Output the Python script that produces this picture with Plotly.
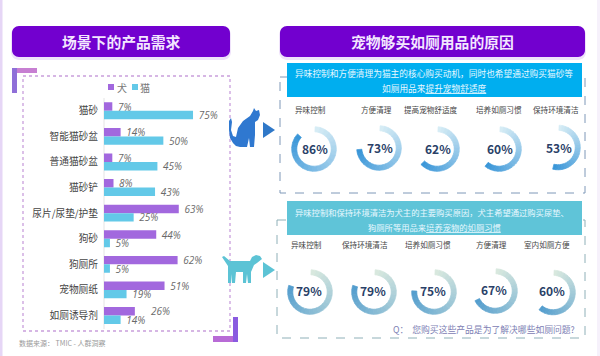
import plotly.graph_objects as go

W, H = 600, 356

# ---- data ----
categories = ["猫砂", "智能猫砂盆", "普通猫砂盆", "猫砂铲", "尿片/尿垫/护垫", "狗砂", "狗厕所", "宠物厕纸", "如厕诱导剂"]
dog_values = [7, 14, 7, 8, 63, 44, 62, 51, 26]
cat_values = [75, 50, 45, 43, 25, 5, 5, 19, 14]

cat_reasons = ["异味控制", "方便清理", "提高宠物舒适度", "培养如厕习惯", "保持环境清洁"]
cat_reason_values = [86, 73, 62, 60, 53]
dog_reasons = ["异味控制", "保持环境清洁", "培养如厕习惯", "方便清理", "室内如厕方便"]
dog_reason_values = [79, 79, 75, 67, 60]

# ---- layout constants ----
FONT = "Noto Sans CJK SC"
cat_centers = [(314, 149), (379, 148), (437, 149), (499, 149), (558, 147.5)]
dog_centers = [(310, 292), (374, 292), (434, 292), (495, 291), (553, 292.5)]
cat_text_x = [310, 376, 431, 499, 556]
dog_text_x = [306, 365, 428, 491, 547]
R = 22.3
NB = "\u00a0"
DOG_COLOR = "#a268de"
CAT_COLOR = "#63c9e8"
SHIFTED_ROW = "如厕诱导剂"   # its dog label is nudged clear of the cat label below it


def X(p):
    return p / W


def Y(p):
    return 1 - p / H


def path_px(cmds):
    s = ""
    for c in cmds:
        if isinstance(c, str):
            s += c
        else:
            s += f"{X(c[0]):.5f},{Y(c[1]):.5f} "
    return s.strip()


def round_rect(x0, y0, x1, y1, r, **kw):
    k = 0.45 * r
    p = path_px(["M", (x0 + r, y0), "L", (x1 - r, y0), "C", (x1 - k, y0), (x1, y0 + k), (x1, y0 + r),
                 "L", (x1, y1 - r), "C", (x1, y1 - k), (x1 - k, y1), (x1 - r, y1),
                 "L", (x0 + r, y1), "C", (x0 + k, y1), (x0, y1 - k), (x0, y1 - r),
                 "L", (x0, y0 + r), "C", (x0, y0 + k), (x0 + k, y0), (x0 + r, y0), "Z"])
    return dict(type="path", xref="paper", yref="paper", path=p, **kw)


def rect(x0, y0, x1, y1, fill="rgba(0,0,0,0)", line=None, layer="below"):
    return dict(type="rect", xref="paper", yref="paper", x0=X(x0), x1=X(x1), y0=Y(y0), y1=Y(y1),
                fillcolor=fill, line=line or dict(width=0), layer=layer)


def poly(points, fill):
    cmds = ["M", points[0]]
    for pt in points[1:]:
        cmds += ["L", pt]
    cmds.append("Z")
    return dict(type="path", xref="paper", yref="paper", path=path_px(cmds), fillcolor=fill,
                line=dict(width=0), layer="above")


def lerp_hex(a, b, t):
    return "rgb(" + ",".join(str(round(a[i] + (b[i] - a[i]) * t)) for i in range(3)) + ")"


fig = go.Figure()

# ---- bars ----
label_font = dict(size=10, color="#6a6a6a", style="italic", family="Open Sans")
fig.add_trace(go.Bar(y=categories, x=dog_values, name="犬", orientation="h",
                     marker=dict(color=DOG_COLOR, line=dict(width=0)),
                     text=["" if c == SHIFTED_ROW else NB + f"{v}%" for c, v in zip(categories, dog_values)],
                     textposition="outside", cliponaxis=False,
                     constraintext="none", textfont=label_font))
fig.add_trace(go.Bar(y=categories, x=cat_values, name="猫", orientation="h",
                     marker=dict(color=CAT_COLOR, line=dict(width=0)),
                     text=[NB + f"{v}%" for v in cat_values], textposition="outside", cliponaxis=False,
                     constraintext="none", textfont=label_font))


# ---- rings ----
def add_ring(value, center, light, dark):
    cx, cy = center
    n = 24
    colors = [lerp_hex(light, dark, i / (n - 1)) for i in range(n)] + ["rgba(0,0,0,0)"]
    vals = [value / n] * n + [100 - value]
    fig.add_trace(go.Pie(values=vals, sort=False, direction="clockwise", rotation=3, hole=0.77,
                         marker=dict(colors=colors, line=dict(width=0.7, color=colors)), textinfo="none",
                         hoverinfo="skip", showlegend=False,
                         domain=dict(x=[X(cx - R), X(cx + R)], y=[Y(cy + R), Y(cy - R)])))


for v, c in zip(cat_reason_values, cat_centers):
    add_ring(v, c, (214, 236, 245), (58, 150, 216))
for v, c in zip(dog_reason_values, dog_centers):
    add_ring(v, c, (216, 232, 222), (84, 158, 206))

# ---- decoration ----
shapes = [
    rect(0, 0, 2.5, 356, fill="#e6d6f6"),
    rect(597, 0, 600, 356, fill="#f6f1fb"),
    round_rect(11, 27, 231, 60, 8, fillcolor="#efe2fb", line=dict(width=0), layer="below"),
    round_rect(279, 27, 586, 60, 8, fillcolor="#efe2fb", line=dict(width=0), layer="below"),
    round_rect(12, 26, 230, 57, 7, fillcolor="#7200cf", line=dict(width=0), layer="below"),
    round_rect(280, 26, 585, 57, 7, fillcolor="#7200cf", line=dict(width=0), layer="below"),
    # left box and corner brackets
    rect(12, 68, 37, 73, fill="#c77fd2"),
    rect(12, 68, 17, 93, fill="#8f6fd8"),
    rect(23, 76, 230, 331, line=dict(color="#c99fdc", width=1.3, dash="dot")),
    rect(213, 336, 238, 342, fill="#b86bd6"),
    rect(233, 317, 238, 342, fill="#8a5be0"),
    # right boxes
    rect(280, 77, 585, 193, line=dict(color="#7f98b8", width=1, dash="dash")),
    rect(277, 220, 585, 338, line=dict(color="#8fb0b8", width=1, dash="dash")),
    rect(287, 63, 582, 97, fill="#00aeef"),
    rect(287, 201, 582, 235, fill="#5fc4d8"),
    # axis line
    dict(type="line", xref="paper", yref="paper", x0=X(104), x1=X(104), y0=Y(98), y1=Y(329),
         line=dict(color="#e4e4e4", width=1), layer="below"),
    # legend swatches
    rect(108, 84, 114, 90, fill=DOG_COLOR),
    rect(132, 84, 138, 90, fill=CAT_COLOR),
    # arrows
    poly([(263, 122), (275, 130), (263, 138)], "#2f78c8"),
    poly([(263, 262), (275, 270), (263, 278)], "#5cc3d5"),
    # cat silhouette
    poly([(229, 121), (231, 118), (232, 122), (231, 130), (233, 136), (236, 137), (238, 128), (243, 121),
          (250, 116), (253, 111), (254, 108), (256, 111), (259, 110), (260, 115), (258, 120), (255, 122),
          (255, 135), (254, 147), (250, 147), (249, 138), (247, 147), (240, 147), (236, 146), (233, 143),
          (230, 138), (229, 130)], "#2f78d0"),
    # dog silhouette
    poly([(222, 257), (224, 256), (230, 261), (250, 261), (252, 257), (256, 255), (260, 256), (262, 259),
          (257, 263), (254, 265), (251, 272), (251, 283), (248, 283), (247, 274), (246, 283), (243, 283),
          (243, 272), (236, 272), (235, 283), (232, 283), (232, 274), (231, 283), (228, 283), (228, 266)],
         "#5cc3d5"),
]


def note(text, x, y, size, color="#333333", bold=False, anchor="center"):
    return dict(text=f"<b>{text}</b>" if bold else text, xref="paper", yref="paper", x=X(x), y=Y(y),
                xanchor=anchor, yanchor="middle", showarrow=False,
                font=dict(family=FONT, size=size, color=color))


annotations = [
    note("场景下的产品需求", 121, 42, 14.8, "#f3e6ff", True),
    note("宠物够买如厕用品的原因", 432, 42, 14.8, "#f3e6ff", True),
    note("异味控制和方便清理为猫主的核心购买动机，同时也希望通过购买猫砂等", 434, 74, 8.7, "#e8f8ff"),
    note("如厕用品来<u>提升宠物舒适度</u>", 434, 88.5, 8.7, "#e8f8ff"),
    note("异味控制和保持环境清洁为犬主的主要购买原因，犬主希望通过购买尿垫、", 432, 212, 8.3, "#e8f8ff"),
    note("狗厕所等用品来<u>培养宠物的如厕习惯</u>", 434, 227, 8.3, "#e8f8ff"),
    note("Q：  您购买这些产品是为了解决哪些如厕问题?", 577, 329, 8.8, "#7d80b4", anchor="right"),
    note("数据来源： TMIC - 人群洞察", 17, 343, 7, "#9a9a9a", anchor="left"),
    note("犬", 122, 87, 10, "#777777"),
    note("猫", 145, 87, 10, "#777777"),
]
for name, x in zip(cat_reasons, cat_text_x):
    annotations.append(note(name, x, 110, 7.6, "#444444"))
for name, x in zip(dog_reasons, dog_text_x):
    annotations.append(note(name, x, 244, 7.6, "#444444"))
for v, (cx, cy) in zip(cat_reason_values, cat_centers):
    annotations.append(note(f"{v}%", cx + 1, cy - 0.5, 12, "#2a4168", True))
for v, (cx, cy) in zip(dog_reason_values, dog_centers):
    annotations.append(note(f"{v}%", cx - 1, cy - 2, 12, "#2a4168", True))

# dog label of the last row, nudged right of the cat label beneath it
annotations.append(dict(text=f"{dog_values[categories.index(SHIFTED_ROW)]}%", xref="x", yref="y",
                        x=dog_values[categories.index(SHIFTED_ROW)], y=SHIFTED_ROW,
                        xanchor="left", yanchor="middle", xshift=14, yshift=4.5, showarrow=False,
                        font=label_font))

fig.update_layout(
    width=W, height=H, margin=dict(l=0, r=0, t=0, b=0), autosize=False,
    paper_bgcolor="white", plot_bgcolor="rgba(0,0,0,0)",
    barmode="group", bargap=0.34, bargroupgap=0,
    shapes=shapes, annotations=annotations,
    font=dict(family=FONT),
    showlegend=False,
    xaxis=dict(domain=[X(104), X(222.7)], range=[0, 100], visible=False),
    yaxis=dict(domain=[Y(329), Y(98)], autorange="reversed", type="category",
               tickfont=dict(family=FONT, size=9.7, color="#444444"), showgrid=False,
               showline=False, ticks="", ticklabelstandoff=5),
)

fig.write_html("out.html", config=dict(displayModeBar=False),
               post_script="document.documentElement.style.overflow='hidden';document.body.style.margin='0';")
